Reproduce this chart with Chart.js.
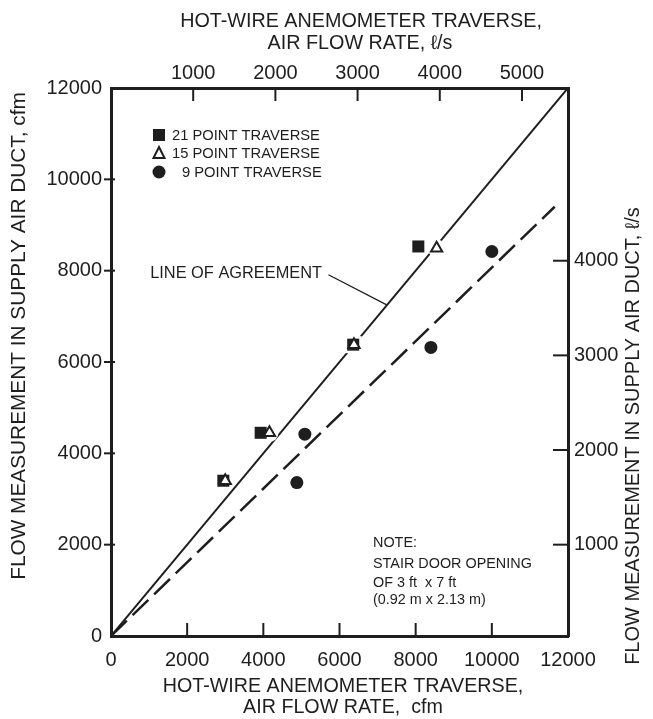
<!DOCTYPE html>
<html><head><meta charset="utf-8">
<script src="https://cdn.jsdelivr.net/npm/chart.js@4"></script>
<style>html,body{margin:0;padding:0;background:#fff;} #wrap{width:653px;height:719px;position:relative;}</style>
</head><body><div id="wrap"><canvas id="c" width="653" height="719"></canvas></div>
<script>
const FAM = '"Liberation Sans", Arial, Helvetica, sans-serif';
const INK = '#1e1e1e';

// tick labels
const bottomTicksCfm = [0, 2000, 4000, 6000, 8000, 10000, 12000];
const leftTicksCfm   = [0, 2000, 4000, 6000, 8000, 10000, 12000];
const topTicksLps    = [1000, 2000, 3000, 4000, 5000];
const rightTicksLps  = [1000, 2000, 3000, 4000];

// axis extents
const cfmMin = 0, cfmMax = 12000;
const topLpsMin = 0, topLpsMax = 5560;
const rightLpsMin = 35, rightLpsMax = 5825;

// series: hot-wire traverse (x, cfm) vs flow measured in supply duct (y, cfm)
const pt21X = [8070, 6360, 3930, 2950];
const pt21Y = [8530, 6380, 4450, 3400];
const pt15X = [8550, 6380, 4160, 3000];
const pt15Y = [8490, 6380, 4450, 3400];
const pt9X  = [10000, 8400, 5090, 4880];
const pt9Y  = [8420, 6320, 4420, 3360];
const agreeX = [0, 12000];
const agreeY = [0, 12000];
const fitX = [0, 11650];
const fitY = [0, 9400];
const leaderX = [5710, 7240];
const leaderY = [7910, 7250];

const legendLabels = ['21 POINT TRAVERSE', '15 POINT TRAVERSE', '9 POINT TRAVERSE'];
const noteLines = ['NOTE:', 'STAIR DOOR OPENING', 'OF 3 ft  x 7 ft', '(0.92 m x 2.13 m)'];
const agreeLabel = 'LINE OF AGREEMENT';
const xTitle = ['HOT-WIRE ANEMOMETER TRAVERSE,', 'AIR FLOW RATE,  cfm'];
const x2Title = ['HOT-WIRE ANEMOMETER TRAVERSE,', 'AIR FLOW RATE, \u2113/s'];
const yTitle = 'FLOW MEASUREMENT IN SUPPLY AIR DUCT, cfm';
const y2Title = 'FLOW MEASUREMENT IN SUPPLY AIR DUCT, \u2113/s';

const zip = (xs, ys) => xs.map((x, i) => ({x: x, y: ys[i]}));

function fitSize(ctx, text, width) {
  ctx.font = '100px ' + FAM;
  return 100 * width / ctx.measureText(text).width;
}
function seg(ctx, x1, y1, x2, y2) { ctx.beginPath(); ctx.moveTo(x1, y1); ctx.lineTo(x2, y2); ctx.stroke(); }
function marker(ctx, kind, x, y) {
  ctx.save();
  ctx.fillStyle = INK; ctx.strokeStyle = INK; ctx.lineWidth = 2;
  if (kind === 'rect') { ctx.fillRect(x - 6, y - 6, 12, 12); }
  else if (kind === 'tri') {
    ctx.fillStyle = '#fff';
    ctx.beginPath(); ctx.moveTo(x, y - 6); ctx.lineTo(x + 5.5, y + 5); ctx.lineTo(x - 5.5, y + 5); ctx.closePath();
    ctx.fill(); ctx.stroke();
  } else { ctx.beginPath(); ctx.arc(x, y, 6.5, 0, Math.PI * 2); ctx.fill(); }
  ctx.restore();
}

const decor = {
  id: 'decor',
  afterDraw(chart) {
    const ctx = chart.ctx, s = chart.scales, a = chart.chartArea;
    ctx.save();
    // inner tick marks
    ctx.strokeStyle = INK; ctx.lineWidth = 2;
    bottomTicksCfm.slice(1, -1).forEach(v => { const x = s.x.getPixelForValue(v); seg(ctx, x, a.bottom, x, a.bottom - 13); });
    topTicksLps.forEach(v => { const x = s.x2.getPixelForValue(v); seg(ctx, x, a.top, x, a.top + 13); });
    leftTicksCfm.slice(1, -1).forEach(v => { const y = s.y.getPixelForValue(v); seg(ctx, a.left - 7, y, a.left + 4, y); });
    rightTicksLps.forEach(v => { const y = s.y2.getPixelForValue(v); seg(ctx, a.right - 15, y, a.right, y); });

    ctx.fillStyle = INK; ctx.textBaseline = 'middle';
    // top title
    let fs = fitSize(ctx, x2Title[0], 362);
    ctx.font = fs + 'px ' + FAM; ctx.textAlign = 'center';
    ctx.fillText(x2Title[0], 361, 22);
    ctx.fillText(x2Title[1], 360, 44);
    // bottom title
    fs = fitSize(ctx, xTitle[0], 361);
    ctx.font = fs + 'px ' + FAM;
    ctx.fillText(xTitle[0], 343, 687);
    ctx.fillText(xTitle[1], 343, 708);
    // left title
    fs = fitSize(ctx, yTitle, 488);
    ctx.save(); ctx.translate(19, 336); ctx.rotate(-Math.PI / 2);
    ctx.font = fs + 'px ' + FAM; ctx.fillText(yTitle, 0, 0); ctx.restore();
    // right title
    fs = fitSize(ctx, y2Title, 458);
    ctx.save(); ctx.translate(633, 436); ctx.rotate(-Math.PI / 2);
    ctx.font = fs + 'px ' + FAM; ctx.fillText(y2Title, 0, 0); ctx.restore();

    // legend
    fs = fitSize(ctx, legendLabels[0], 148);
    ctx.font = fs + 'px ' + FAM; ctx.textAlign = 'left';
    const ly = [135, 153, 172];
    marker(ctx, 'rect', 159, ly[0]);
    marker(ctx, 'tri', 159, ly[1]);
    marker(ctx, 'circ', 159, ly[2]);
    ctx.fillText(legendLabels[0], 172, ly[0] + 1);
    ctx.fillText(legendLabels[1], 172, ly[1] + 1);
    ctx.fillText(legendLabels[2], 182, ly[2] + 1);

    // line of agreement label
    fs = fitSize(ctx, agreeLabel, 172);
    ctx.font = fs + 'px ' + FAM; ctx.textAlign = 'right';
    ctx.fillText(agreeLabel, 322, 273);

    // note
    fs = fitSize(ctx, noteLines[1], 159);
    ctx.font = fs + 'px ' + FAM; ctx.textAlign = 'left';
    const ny = [543, 564, 583, 600];
    noteLines.forEach((t, i) => ctx.fillText(t, 373, ny[i]));
    ctx.restore();
  }
};

const tickFont = {size: 20, family: FAM};
const plain = v => String(v);
const gridOff = {display: false, drawTicks: false};
const frame = {display: true, width: 3, color: INK};
new Chart(document.getElementById('c'), {
  type: 'scatter',
  data: {
    datasets: [
      {data: zip(pt9X, pt9Y), pointStyle: 'circle', pointRadius: 6.5, backgroundColor: INK, borderColor: INK, borderWidth: 0, order: 1},
      {data: zip(pt15X, pt15Y), pointStyle: 'triangle', pointRadius: 6.5, backgroundColor: '#fff', borderColor: INK, borderWidth: 2, order: 2},
      {data: zip(pt21X, pt21Y), pointStyle: 'rect', pointRadius: 8.5, backgroundColor: INK, borderColor: INK, borderWidth: 0, order: 3},
      // white gaps that break the line of agreement around the markers
      {data: zip(pt21X, pt21Y), pointStyle: 'rect', pointRadius: 12, backgroundColor: '#fff', borderWidth: 0, order: 5},
      {data: zip(pt15X, pt15Y), pointStyle: 'circle', pointRadius: 9, backgroundColor: '#fff', borderWidth: 0, order: 5},
      {data: zip(agreeX, agreeY), showLine: true, pointRadius: 0, borderColor: INK, borderWidth: 2, order: 10},
      {data: zip(fitX, fitY), showLine: true, pointRadius: 0, borderColor: INK, borderWidth: 2.5, borderDash: [22, 8], order: 11},
      {data: zip(leaderX, leaderY), showLine: true, pointRadius: 0, borderColor: INK, borderWidth: 1.3, order: 12}
    ]
  },
  options: {
    responsive: false, animation: false, devicePixelRatio: 1,
    layout: {padding: 0},
    plugins: {legend: {display: false}, tooltip: {enabled: false}},
    scales: {
      x: {type: 'linear', position: 'bottom', min: cfmMin, max: cfmMax,
          afterBuildTicks: sc => { sc.ticks = bottomTicksCfm.map(v => ({value: v})); },
          afterFit: sc => { sc.height = 83; },
          grid: gridOff, border: frame,
          ticks: {font: tickFont, color: INK, padding: 12, maxRotation: 0, autoSkip: false, callback: plain}},
      x2: {type: 'linear', position: 'top', min: topLpsMin, max: topLpsMax,
          afterBuildTicks: sc => { sc.ticks = topTicksLps.map(v => ({value: v})); },
          afterFit: sc => { sc.height = 88; },
          grid: gridOff, border: frame,
          ticks: {font: tickFont, color: INK, padding: 3, maxRotation: 0, autoSkip: false, callback: plain}},
      y: {type: 'linear', position: 'left', min: cfmMin, max: cfmMax,
          afterBuildTicks: sc => { sc.ticks = leftTicksCfm.map(v => ({value: v})); },
          afterFit: sc => { sc.width = 111; },
          grid: gridOff, border: frame,
          ticks: {font: tickFont, color: INK, padding: 9, autoSkip: false, callback: plain}},
      y2: {type: 'linear', position: 'right', min: rightLpsMin, max: rightLpsMax,
          afterBuildTicks: sc => { sc.ticks = rightTicksLps.map(v => ({value: v})); },
          afterFit: sc => { sc.width = 85; },
          grid: gridOff, border: frame,
          ticks: {font: tickFont, color: INK, padding: 6, autoSkip: false, callback: plain}}
    }
  },
  plugins: [decor]
});
</script></body></html>
